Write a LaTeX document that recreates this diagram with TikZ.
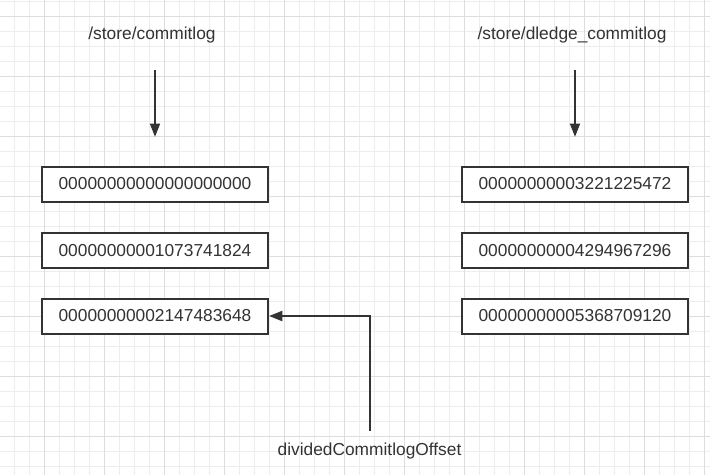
\documentclass[tikz,border=0pt]{standalone}
\usepackage{fontspec}
\setmainfont{Liberation Sans}
\usepackage{xcolor}
\usetikzlibrary{arrows.meta,positioning}

\definecolor{inkgray}{HTML}{333333}
\definecolor{gridminor}{HTML}{EDEDED}
\definecolor{gridmajor}{HTML}{DDDDDD}

\begin{document}
\begin{tikzpicture}[
        x=0.75pt, y=-0.75pt,
        font=\fontsize{13pt}{15.5pt}\selectfont,
        path/.style={inner sep=0pt, text=inkgray},
        offset/.style={rectangle, draw=inkgray, line width=1.5pt, fill=white, minimum width=169.5pt, minimum height=26.25pt, text=inkgray, align=center},
        arrow/.style={line width=1.5pt, draw=inkgray, -{Triangle[length=10pt,width=7.5pt]}}
    ]
        % Background grid
        \useasboundingbox (0,0) rectangle (710,475);
        \fill[white] (0,0) rectangle (710,475);
        \foreach \gx in {14.3,29.3,...,710} \draw[gridminor, line width=0.75pt] (\gx,0) -- (\gx,475);
        \foreach \gy in {1,16,...,475} \draw[gridminor, line width=0.75pt] (0,\gy) -- (710,\gy);
        \foreach \gx in {44.3,104.3,...,710} \draw[gridmajor, line width=0.75pt] (\gx,0) -- (\gx,475);
        \foreach \gy in {16,76,...,475} \draw[gridmajor, line width=0.75pt] (0,\gy) -- (710,\gy);

        % Store paths
        \node[path] (clog) at (152,35) {/store/commitlog};
        \node[path] (dlog) at (572,35) {/store/dledge\_commitlog};

        % Commitlog files
        \node[offset] (c1) at (155,184) {00000000000000000000};
        \node[offset] (c2) at (155,250.5) {00000000001073741824};
        \node[offset] (c3) at (155,316) {00000000002147483648};

        % Dledger commitlog files
        \node[offset] (d1) at (575,184) {00000000003221225472};
        \node[offset] (d2) at (575,250.5) {00000000004294967296};
        \node[offset] (d3) at (575,316) {00000000005368709120};

        % Offset label
        \node[path] (off) at (369.5,451) {dividedCommitlogOffset};

        % Connections
        \draw[arrow, shorten <=20pt, shorten >=21.5pt] (c1.north |- clog.south) -- (c1.north);
        \draw[arrow, shorten <=20pt, shorten >=21.5pt] (d1.north |- dlog.south) -- (d1.north);
        \draw[arrow, shorten <=9pt] (off.north) |- (c3.east);
    \end{tikzpicture}
\end{document}
